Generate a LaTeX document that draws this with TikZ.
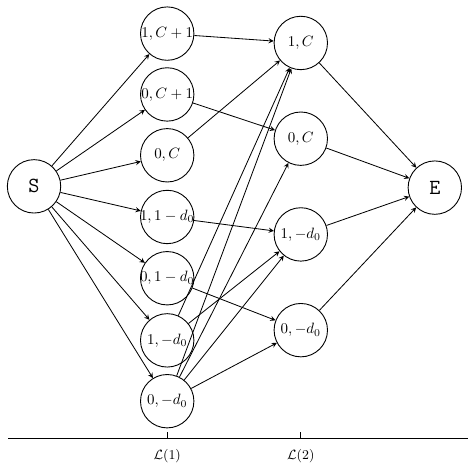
\documentclass[tikz,border=0pt]{standalone}
\usepackage{tikz}

\tikzset{
  bub/.style={circle, draw, line width=0.6pt, minimum size=1.255cm, inner sep=0pt},
  term/.style={bub, font=\Large\ttfamily},
  link/.style={->, >=stealth, line width=0.55pt}
}

\begin{document}
\begin{tikzpicture}
    \useasboundingbox (0,0) rectangle (11.0,10.94);

    % Start and end states
    \node[term] (S) at (0.80,6.56) {S};
    \node[term] (E) at (10.22,6.53) {E};

    % First layer
    \node[bub] (a1) at (3.93,10.15) {\makebox[0pt]{$1,C+1$}};
    \node[bub] (a2) at (3.93,8.72) {\makebox[0pt]{$0,C+1$}};
    \node[bub] (a3) at (3.93,7.29) {\makebox[0pt]{$0,C$}};
    \node[bub] (a4) at (3.93,5.84) {\makebox[0pt]{$1,1-d_0$}};
    \node[bub] (a5) at (3.93,4.40) {\makebox[0pt]{$0,1-d_0$}};
    \node[bub] (a6) at (3.93,2.94) {\makebox[0pt]{$1,-d_0$}};
    \node[bub] (a7) at (3.93,1.51) {\makebox[0pt]{$0,-d_0$}};

    % Second layer
    \node[bub] (b1) at (7.07,9.93) {\makebox[0pt]{$1,C$}};
    \node[bub] (b2) at (7.07,7.68) {\makebox[0pt]{$0,C$}};
    \node[bub] (b3) at (7.07,5.43) {\makebox[0pt]{$1,-d_0$}};
    \node[bub] (b4) at (7.07,3.18) {\makebox[0pt]{$0,-d_0$}};

    % S to the first layer
    \foreach \n in {a1,a2,a3,a4,a5,a6,a7}
        \draw[link] (S) -- (\n);

    % First layer to second layer
    \draw[link] (a1) -- (b1);
    \draw[link] (a2) -- (b2);
    \draw[link] (a3) -- (b1);
    \draw[link] (a4) -- (b3);
    \draw[link] (a5) -- (b4);
    \draw[link] (a6) -- (b1);
    \draw[link] (a6) -- (b3);
    \foreach \n in {b1,b2,b3,b4}
        \draw[link] (a7) -- (\n);

    % Second layer to E
    \foreach \n in {b1,b2,b3,b4}
        \draw[link] (\n) -- (E);

    % Axis with the two levels
    \coordinate (L0) at (0.19,0.63);
    \coordinate (L3) at (11.0,0.63);
    \coordinate (L1) at (3.93,0.63);
    \coordinate (L2) at (7.07,0.63);
    \draw[line width=0.6pt] (L0) -- (L3);
    \draw[line width=0.6pt] (L1) -- ++(0,0.15);
    \draw[line width=0.6pt] (L2) -- ++(0,0.15);
    \node[font=\small, below=0.12cm] (l1) at (L1) {$\mathcal{L}(1)$};
    \node[font=\small, below=0.12cm] (l2) at (L2) {$\mathcal{L}(2)$};
\end{tikzpicture}
\end{document}
